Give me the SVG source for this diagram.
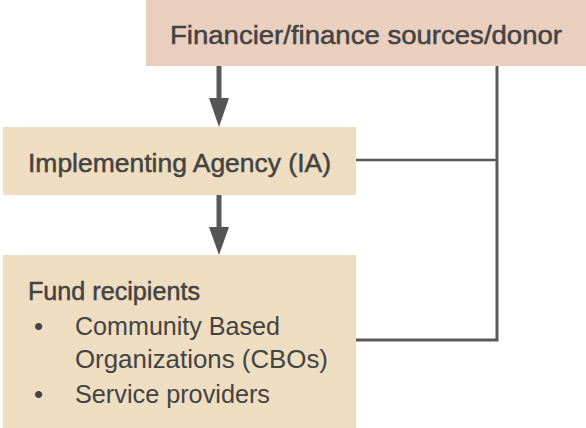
<svg xmlns="http://www.w3.org/2000/svg" width="586" height="428" viewBox="0 0 586 428">
<defs>
<style>
.t{font-family:"Liberation Sans",Arial,sans-serif;font-size:26px;fill:#434343}
.m{stroke:#434343;stroke-width:0.5px}
.ln{stroke:#595959;fill:none}
.hd{fill:#555555}
</style>
</defs>
<rect width="586" height="428" fill="#ffffff"/>
<g id="connectors">
<path class="ln" d="M219,66 V99" stroke-width="5"/>
<polygon class="hd" points="209,98 229,98 219,127"/>
<path class="ln" d="M219,195 V228" stroke-width="5"/>
<polygon class="hd" points="209,227 229,227 219,255"/>
<path class="ln" d="M497,66 V340 H356" stroke-width="3"/>
<path class="ln" d="M356,160 H497" stroke-width="2.5"/>
</g>
<g id="financier">
<rect x="146" y="0" width="440" height="66" fill="#EACFBF"/>
<text class="t m" x="170" y="44" textLength="392" lengthAdjust="spacingAndGlyphs">Financier/finance sources/donor</text>
</g>
<g id="ia">
<rect x="3" y="127" width="353" height="68" fill="#EFDDC1"/>
<text class="t m" x="28" y="172" textLength="303" lengthAdjust="spacingAndGlyphs">Implementing Agency (IA)</text>
</g>
<g id="recipients">
<rect x="3" y="255" width="353" height="173" fill="#EFDDC1"/>
<text class="t m" x="28" y="300" textLength="172" lengthAdjust="spacingAndGlyphs">Fund recipients</text>
<text class="t" x="34" y="335">•</text>
<text class="t" x="75" y="335" textLength="205" lengthAdjust="spacingAndGlyphs">Community Based</text>
<text class="t" x="75" y="368" textLength="253" lengthAdjust="spacingAndGlyphs">Organizations (CBOs)</text>
<text class="t" x="34" y="403">•</text>
<text class="t" x="75" y="403" textLength="195" lengthAdjust="spacingAndGlyphs">Service providers</text>
</g>
</svg>
